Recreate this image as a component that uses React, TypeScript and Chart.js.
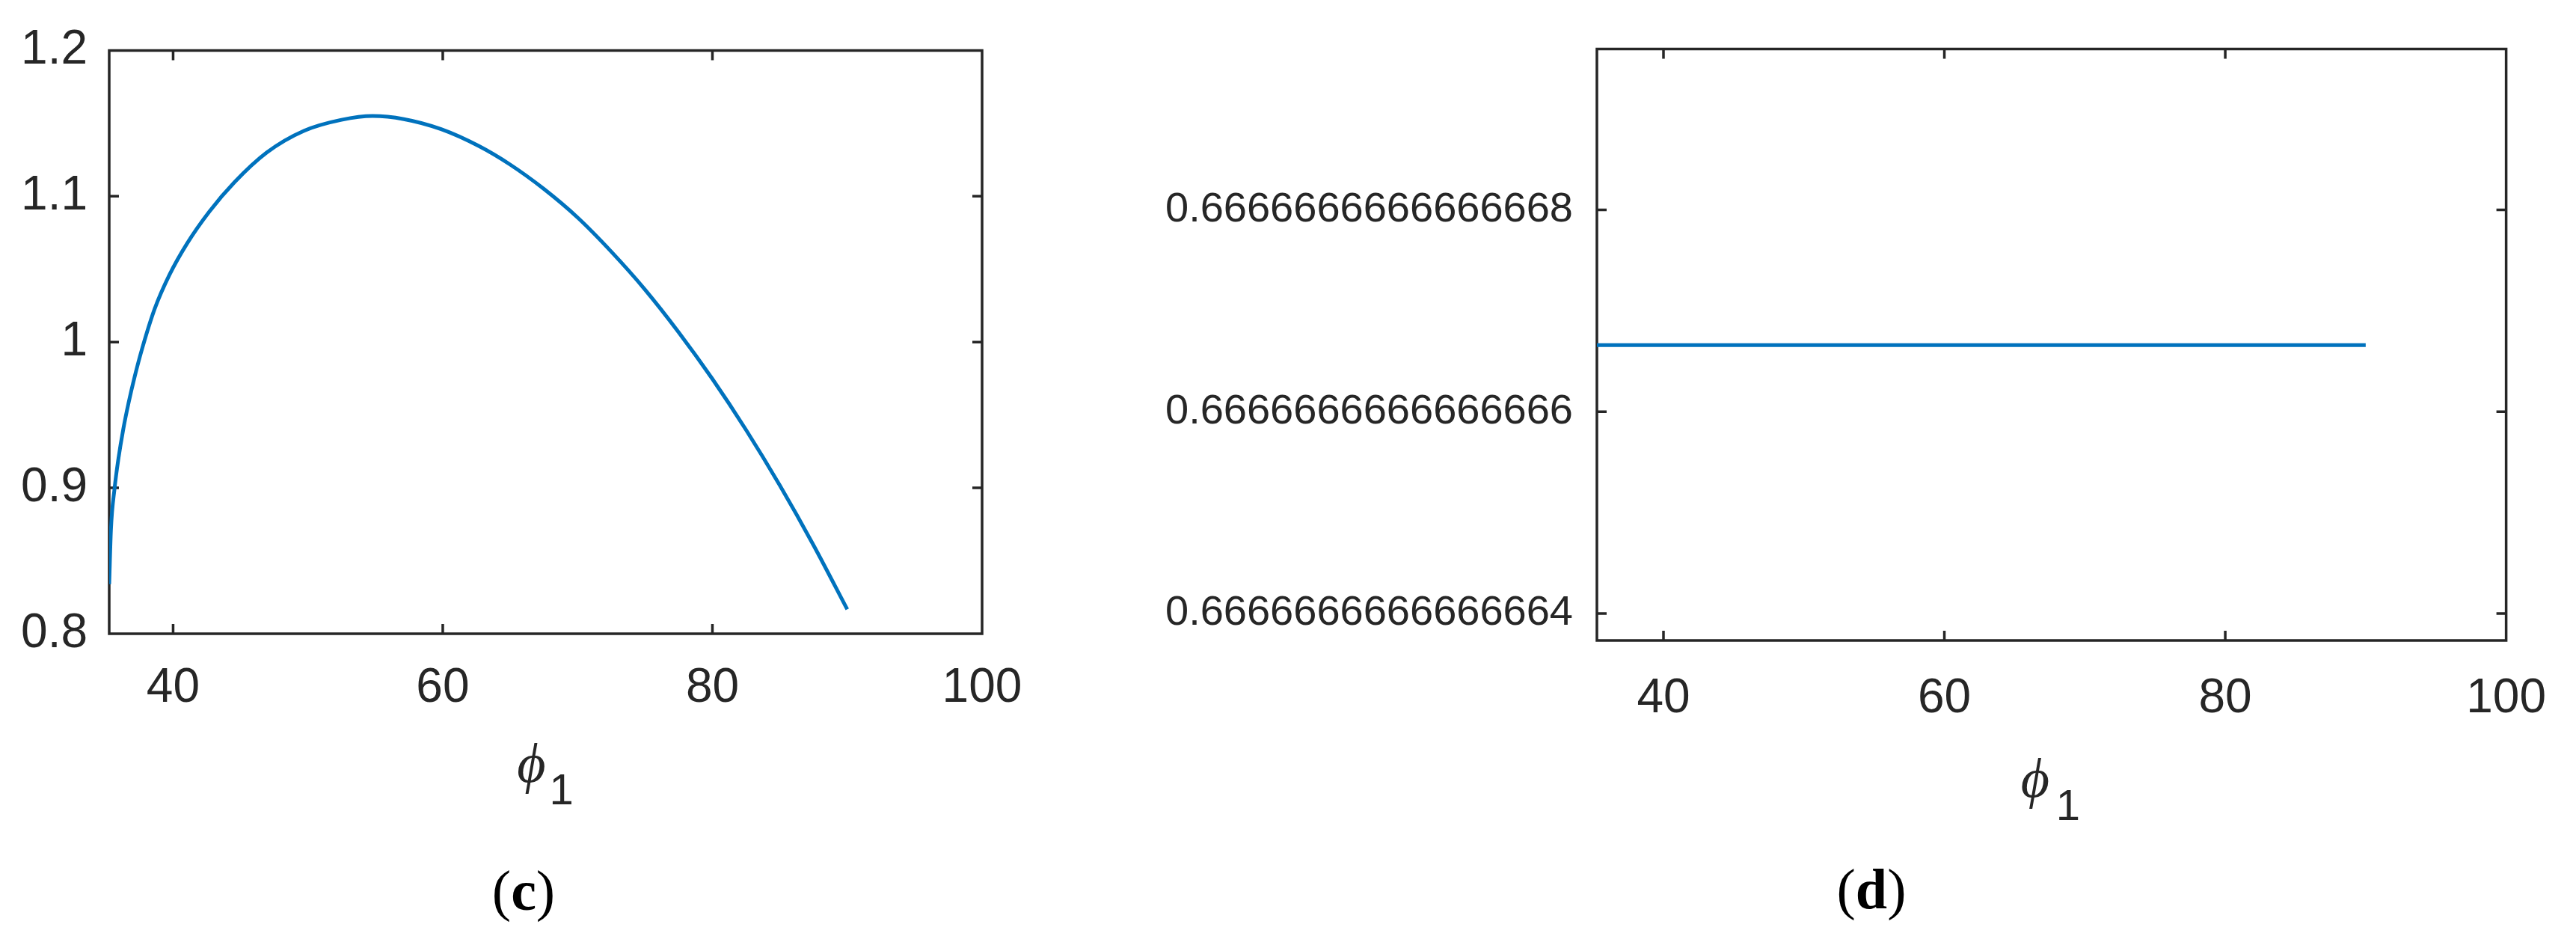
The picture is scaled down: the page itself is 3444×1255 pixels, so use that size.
import React, { useEffect, useRef } from "react";
import { Chart, registerables } from "chart.js";

Chart.register(...registerables);

// ---------- panel (c) data ----------
const phiC = [35.26, 35.39, 35.66, 35.94, 36.31, 36.69, 37.15, 37.7, 38.63, 39.74, 41.03, 42.69, 44.54, 46.95, 49.72, 52.49, 54.8, 57.11, 59.88, 62.66, 65.0, 67.5, 70.0, 72.5, 75.0, 77.5, 80.0, 82.5, 85.0, 87.5, 90.0];
const valC = [0.834, 0.8715, 0.8998, 0.9198, 0.9406, 0.958, 0.9763, 0.9954, 1.0227, 1.0463, 1.0675, 1.0895, 1.1095, 1.13, 1.1449, 1.1524, 1.155, 1.1529, 1.146, 1.1345, 1.1217, 1.105, 1.0854, 1.062, 1.036, 1.0067, 0.9747, 0.9397, 0.9017, 0.8607, 0.8167];
const yTicksC = [0.8, 0.9, 1.0, 1.1, 1.2];
const yLabelsC = ["0.8", "0.9", "1", "1.1", "1.2"];

// ---------- panel (d) data ----------
// values expressed as offset (in units of 1e-16) above 0.6666666666666666
const phiD = [35.26, 45, 55, 65, 75, 90];
const offsetD = [0.66, 0.66, 0.66, 0.66, 0.66, 0.66];
const yTicksD = [-2, 0, 2];
const yLabelsD = ["0.6666666666666664", "0.6666666666666666", "0.6666666666666668"];

// ---------- shared ----------
const xTicks = [40, 60, 80, 100];
const xMin = 35.26;
const xMax = 100;

const AXIS = "#262626";
const LINE = "#0072BD";
const TL = 13;

const decoPlugin = {
  id: "deco",
  beforeDatasetsDraw(chart: any) {
    const { ctx, chartArea: a, scales } = chart;
    ctx.save();
    ctx.strokeStyle = AXIS;
    ctx.lineWidth = 3.5;
    ctx.beginPath();
    ctx.rect(a.left, a.top, a.right - a.left, a.bottom - a.top);
    for (const t of scales.x.ticks) {
      const p = scales.x.getPixelForValue(t.value);
      ctx.moveTo(p, a.bottom);
      ctx.lineTo(p, a.bottom - TL);
      ctx.moveTo(p, a.top);
      ctx.lineTo(p, a.top + TL);
    }
    for (const t of scales.y.ticks) {
      const p = scales.y.getPixelForValue(t.value);
      ctx.moveTo(a.left, p);
      ctx.lineTo(a.left + TL, p);
      ctx.moveTo(a.right, p);
      ctx.lineTo(a.right - TL, p);
    }
    ctx.stroke();
    ctx.restore();
  },
  afterDraw(chart: any, _a: any, o: any) {
    const { ctx, chartArea: a } = chart;
    const cx = (a.left + a.right) / 2;
    ctx.save();
    ctx.fillStyle = AXIS;
    ctx.textBaseline = "middle";
    ctx.textAlign = "center";
    ctx.font = `italic ${o.phiSize}px "Liberation Serif"`;
    ctx.fillText("\u03D5", cx + o.phiDx, a.bottom + o.phiDy);
    ctx.textAlign = "left";
    ctx.font = `${o.subSize}px "Liberation Sans"`;
    ctx.fillText("1", cx + o.subDx, a.bottom + o.subDy);

    // panel label
    ctx.fillStyle = "#000";
    const fr = `76px "Liberation Serif"`;
    const fb = `bold 76px "Liberation Serif"`;
    ctx.font = fr;
    const wp = ctx.measureText("(").width;
    const wq = ctx.measureText(")").width;
    ctx.font = fb;
    const wl = ctx.measureText(o.letter).width;
    let x = o.panelX - (wp + wl + wq) / 2;
    ctx.font = fr;
    ctx.fillText("(", x, o.panelY);
    x += wp;
    ctx.font = fb;
    ctx.fillText(o.letter, x, o.panelY);
    x += wl;
    ctx.font = fr;
    ctx.fillText(")", x, o.panelY);
    ctx.restore();
  },
};

type Cfg = {
  xs: number[];
  ys: number[];
  yMin: number;
  yMax: number;
  yTicks: number[];
  yLabels: string[];
  yFont: number;
  yPad: number;
  xPad: number;
  w: number;
  h: number;
  areaLeft: number;
  areaTop: number;
  areaRight: number;
  areaBottom: number;
  deco: any;
};

function makeChart(canvas: HTMLCanvasElement, c: Cfg) {
  return new Chart(canvas, {
    type: "line",
    data: {
      datasets: [
        {
          data: c.xs.map((x, i) => ({ x, y: c.ys[i] })),
          borderColor: LINE,
          borderWidth: 5,
          pointRadius: 0,
          fill: false,
          cubicInterpolationMode: "monotone",
        },
      ],
    },
    plugins: [decoPlugin as any],
    options: {
      animation: false,
      responsive: false,
      maintainAspectRatio: false,
      events: [],
      layout: {
        padding: { top: c.areaTop, right: c.w - c.areaRight, left: 0, bottom: 0 },
      },
      plugins: {
        legend: { display: false },
        tooltip: { enabled: false },
        deco: c.deco,
      } as any,
      scales: {
        x: {
          type: "linear",
          min: xMin,
          max: xMax,
          grid: { display: false, drawTicks: false },
          border: { display: false },
          afterBuildTicks: (s: any) => {
            s.ticks = xTicks.map((v) => ({ value: v }));
          },
          afterFit: (s: any) => {
            s.height = c.h - c.areaBottom;
          },
          ticks: {
            color: AXIS,
            padding: c.xPad,
            maxRotation: 0,
            autoSkip: false,
            font: { family: "Liberation Sans", size: 64 },
            callback: (v: any) => String(v),
          },
        },
        y: {
          type: "linear",
          min: c.yMin,
          max: c.yMax,
          grid: { display: false, drawTicks: false },
          border: { display: false },
          afterBuildTicks: (s: any) => {
            s.ticks = c.yTicks.map((v) => ({ value: v }));
          },
          afterFit: (s: any) => {
            s.width = c.areaLeft;
          },
          ticks: {
            color: AXIS,
            padding: c.yPad,
            autoSkip: false,
            font: { family: "Liberation Sans", size: c.yFont },
            callback: (_v: any, i: number) => c.yLabels[i],
          },
        },
      },
    },
  } as any);
}

const W1 = 1500;
const W2 = 1944;
const H = 1255;

export default function App() {
  const r1 = useRef<HTMLCanvasElement>(null);
  const r2 = useRef<HTMLCanvasElement>(null);

  useEffect(() => {
    const c1 = makeChart(r1.current!, {
      xs: phiC,
      ys: valC,
      yMin: 0.8,
      yMax: 1.2,
      yTicks: yTicksC,
      yLabels: yLabelsC,
      yFont: 64,
      yPad: 29,
      xPad: 35,
      w: W1,
      h: H,
      areaLeft: 146,
      areaTop: 50,
      areaRight: 1313,
      areaBottom: 847,
      deco: { phiSize: 74, phiDx: -19, phiDy: 179, subSize: 58, subDx: 5, subDy: 212, letter: "c", panelX: 700, panelY: 1196 },
    });
    const c2 = makeChart(r2.current!, {
      xs: phiD,
      ys: offsetD,
      yMin: -2.267,
      yMax: 3.593,
      yTicks: yTicksD,
      yLabels: yLabelsD,
      yFont: 56,
      yPad: 32,
      xPad: 40,
      w: W2,
      h: H,
      areaLeft: 635,
      areaTop: 21,
      areaRight: 1862,
      areaBottom: 856,
      deco: { phiSize: 74, phiDx: -22, phiDy: 190, subSize: 58, subDx: 6, subDy: 224, letter: "d", panelX: 1002, panelY: 1194 },
    });
    return () => {
      c1.destroy();
      c2.destroy();
    };
  }, []);

  return (
    <div style={{ position: "absolute", left: 0, top: 0, width: 3444, height: H, background: "#fff" }}>
      <canvas ref={r1} width={W1} height={H} style={{ position: "absolute", left: 0, top: 0, width: W1, height: H }} />
      <canvas ref={r2} width={W2} height={H} style={{ position: "absolute", left: W1, top: 0, width: W2, height: H }} />
    </div>
  );
}
